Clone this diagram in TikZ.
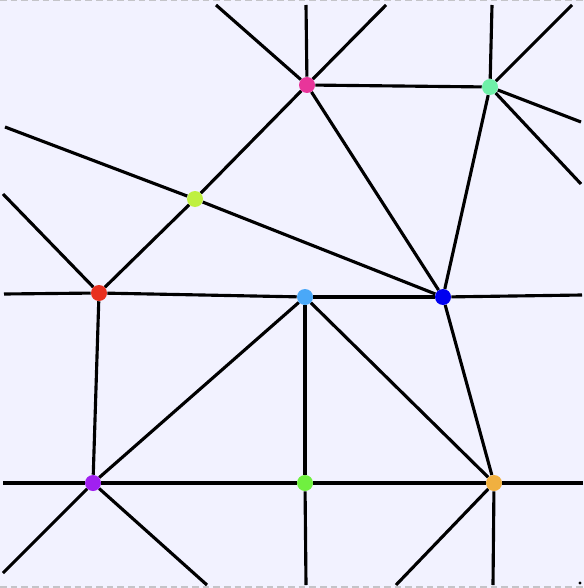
\documentclass[tikz,border=0pt]{standalone}
\usetikzlibrary{backgrounds}
\definecolor{bgc}{HTML}{F2F2FF}
\definecolor{cmag}{HTML}{E8359A}
\definecolor{caqua}{HTML}{6EF0A8}
\definecolor{cyg}{HTML}{BFF040}
\definecolor{cred}{HTML}{E83020}
\definecolor{clb}{HTML}{4AA8F8}
\definecolor{cblue}{HTML}{0000F0}
\definecolor{cpur}{HTML}{A020F0}
\definecolor{cgreen}{HTML}{70F040}
\definecolor{corange}{HTML}{F0B040}
\definecolor{cdash}{HTML}{C4C4C8}
\tikzset{
  vtx/.style={circle,inner sep=0pt,minimum size=12pt,fill=#1,draw=none},
  edge/.style={line width=2.35pt,black},
  rim/.style={line width=1.2pt,cdash,dash pattern=on 5pt off 3pt}
}
\begin{document}
\begin{tikzpicture}[x=0.75pt,y=-0.75pt]
\useasboundingbox (0,0) rectangle (584,588);
% nodes
\node[vtx=cmag] (m) at (307,85) {};
\node[vtx=caqua] (a) at (490,87) {};
\node[vtx=cyg] (y) at (195,199) {};
\node[vtx=cred] (r) at (99,293) {};
\node[vtx=clb] (l) at (305,297) {};
\node[vtx=cblue] (b) at (443,297) {};
\node[vtx=cpur] (p) at (93,483) {};
\node[vtx=cgreen] (g) at (305,483) {};
\node[vtx=corange] (o) at (494,483) {};
% free ends
\coordinate (m1) at (216,5);
\coordinate (m2) at (306,5);
\coordinate (m3) at (386,5);
\coordinate (a1) at (492,5);
\coordinate (a2) at (572,5);
\coordinate (a3) at (581,122);
\coordinate (a4) at (581,184);
\coordinate (y1) at (5,127);
\coordinate (r1) at (3,194);
\coordinate (r2) at (4,294);
\coordinate (b1) at (582,295);
\coordinate (p1) at (3,483);
\coordinate (p2) at (3,573);
\coordinate (p3) at (207,585);
\coordinate (g1) at (306,585);
\coordinate (o1) at (583,483);
\coordinate (o2) at (396,585);
\coordinate (o3) at (493,585);
\begin{scope}[on background layer]
\fill[bgc] (0,0) rectangle (584,588);
\draw[rim] (0,0.6) -- (584,0.6);
\draw[rim] (0,587.2) -- (584,587.2);
\draw[edge] (m) -- (a);
\draw[edge] (m) -- (y);
\draw[edge] (m) -- (b);
\draw[edge] (m) -- (m1);
\draw[edge] (m) -- (m2);
\draw[edge] (m) -- (m3);
\draw[edge] (a) -- (a1);
\draw[edge] (a) -- (a2);
\draw[edge] (a) -- (a3);
\draw[edge] (a) -- (a4);
\draw[edge] (a) -- (b);
\draw[edge] (y) -- (r);
\draw[edge] (y) -- (y1);
\draw[edge] (y) -- (b);
\draw[edge] (r) -- (r1);
\draw[edge] (r) -- (r2);
\draw[edge] (r) -- (l);
\draw[edge] (r) -- (p);
\draw[edge] (l) -- (b);
\draw[edge] (l) -- (p);
\draw[edge] (l) -- (g);
\draw[edge] (l) -- (o);
\draw[edge] (b) -- (b1);
\draw[edge] (b) -- (o);
\draw[edge] (p) -- (p1);
\draw[edge] (p) -- (p2);
\draw[edge] (p) -- (p3);
\draw[edge] (p) -- (g);
\draw[edge] (g) -- (o);
\draw[edge] (g) -- (g1);
\draw[edge] (o) -- (o1);
\draw[edge] (o) -- (o2);
\draw[edge] (o) -- (o3);
\end{scope}
\fill[black] (580,583) circle (1.6);
\end{tikzpicture}
\end{document}
